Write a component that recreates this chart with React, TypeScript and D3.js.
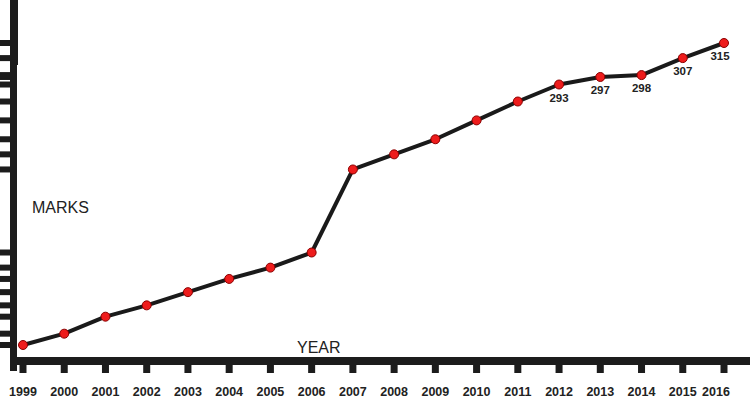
import React from "react";
import * as d3 from "d3";

const years = ["1999","2000","2001","2002","2003","2004","2005","2006","2007","2008","2009","2010","2011","2012","2013","2014","2015","2016"];
const marks = [155, 161, 170, 176, 183, 190, 196, 204, 248, 256, 264, 274, 284, 293, 297, 298, 307, 315];
const labelledYears = ["2012", "2013", "2014", "2015", "2016"];

const W = 750, H = 398;
const AXIS = "#1c1c1c";

export default function App() {
  const x = d3.scalePoint<string>().domain(years).range([23, 724]);
  const y = d3.scaleLinear().domain([155, 315]).range([345, 43]);
  const data = years.map((yr, i) => ({ yr, v: marks[i] }));
  const line = d3.line<{ yr: string; v: number }>().x(d => x(d.yr)!).y(d => y(d.v));

  const axisX = 10, axisW = 7;
  const axisY = 357, axisH = 8;

  return (
    <svg width={W} height={H} style={{ position: "absolute", left: 0, top: 0, background: "#fff" }}
      fontFamily="'Liberation Sans', Arial, sans-serif">
      <rect x={0} y={0} width={W} height={H} fill="#fff" />
      {/* y axis */}
      <rect x={axisX} y={0} width={axisW} height={axisY + axisH + 6} fill={AXIS} />
      <rect x={axisX + 1} y={0} width={axisW} height={65} fill={AXIS} />
      {marks.map((v, i) => (
        <rect key={"yt" + i} x={0} y={y(v) - 3} width={axisX} height={6} fill={AXIS} />
      ))}
      {/* x axis */}
      <rect x={axisX} y={axisY} width={W - axisX} height={axisH} fill={AXIS} />
      {years.map(yr => (
        <rect key={"xt" + yr} x={x(yr)! - 3.5} y={axisY + axisH} width={7} height={8} fill={AXIS} />
      ))}
      {years.map(yr => (
        <text key={"xl" + yr} x={Math.min(x(yr)!, 716)} y={396} textAnchor="middle"
          fontSize={12.5} fontWeight="bold" fill="#222">{yr}</text>
      ))}
      <text x={32} y={213} fontSize={16} fill="#222">MARKS</text>
      <text x={297} y={353} fontSize={16} fill="#222">YEAR</text>
      {/* line */}
      <path d={line(data) || ""} fill="none" stroke="#1a1a1a" strokeWidth={4} strokeLinejoin="round" />
      {data.map(d => (
        <circle key={"p" + d.yr} cx={x(d.yr)} cy={y(d.v)} r={4.5} fill="#ee1c1c" stroke="#8a0000" strokeWidth={1} />
      ))}
      {data.filter(d => labelledYears.includes(d.yr)).map(d => (
        <text key={"dl" + d.yr} x={Math.min(x(d.yr)!, 720)} y={y(d.v) + 17} textAnchor="middle"
          fontSize={11.5} fontWeight="bold" fill="#222">{d.v}</text>
      ))}
    </svg>
  );
}
